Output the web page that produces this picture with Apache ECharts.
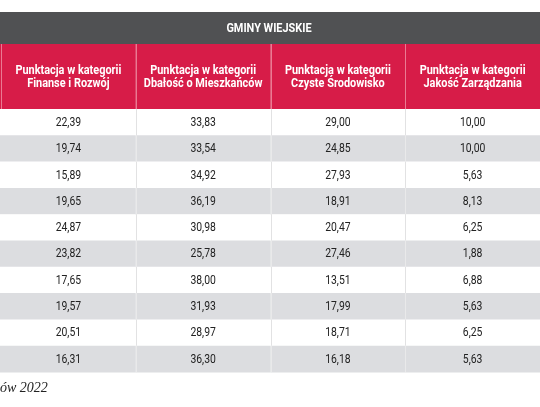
<!DOCTYPE html>
<html>
<head>
<meta charset="utf-8">
<script src="https://cdn.jsdelivr.net/npm/echarts@6/dist/echarts.min.js"></script>
<style>
html,body{margin:0;padding:0;background:#ffffff;}
#chart{width:540px;height:407px;}
</style>
</head>
<body>
<div id="chart"></div>
<script>
// ---- data ----
const tableTitle = 'GMINY WIEJSKIE';
const columnLabels = [
  'Punktacja w kategorii\nFinanse i Rozwój',
  'Punktacja w kategorii\nDbałość o Mieszkańców',
  'Punktacja w kategorii\nCzyste Środowisko',
  'Punktacja w kategorii\nJakość Zarządzania'
];
const rowIds = ['1','2','3','4','5','6','7','8','9','10'];
const finanseRozwoj      = [22.39, 19.74, 15.89, 19.65, 24.87, 23.82, 17.65, 19.57, 20.51, 16.31];
const dbaloscMieszkancow = [33.83, 33.54, 34.92, 36.19, 30.98, 25.78, 38.00, 31.93, 28.97, 36.30];
const czysteSrodowisko   = [29.00, 24.85, 27.93, 18.91, 20.47, 27.46, 13.51, 17.99, 18.71, 16.18];
const jakoscZarzadzania  = [10.00, 10.00, 5.63, 8.13, 6.25, 1.88, 6.88, 5.63, 6.25, 5.63];
const footnote = 'ów 2022';

// ---- build ----
const valueColumns = [finanseRozwoj, dbaloscMieszkancow, czysteSrodowisko, jakoscZarzadzania];
const cellData = [];
valueColumns.forEach((col, c) => col.forEach((v, r) => cellData.push([c, r, v])));
const headerData = columnLabels.map((l, c) => ({ value: [c, 0], name: l }));

const SANS = 'Roboto, "Noto Sans", sans-serif';
const RED = '#d71c48';
const GRAY_BAND = '#505153';
const ROW_GRAY = '#dcdde0';

function fmt(v) { return v.toFixed(2).replace('.', ','); }

function renderHeader(params, api) {
  const c = api.value(0);
  const p = api.coord([c, 0]);
  const s = api.size([1, 1]);
  let x = p[0] - s[0] / 2;
  let w = s[0];
  if (c === 0) { w += x; x = 0; }
  const y = p[1] - s[1] / 2;
  const lx = Math.round(p[0] - s[0] / 2) + 0.5;
  return {
    type: 'group',
    children: [
      { type: 'rect', shape: { x: x, y: y, width: w, height: s[1] }, style: { fill: RED } },
      { type: 'line', shape: { x1: lx, y1: y, x2: lx, y2: y + s[1] }, style: { stroke: '#ea7a92', lineWidth: 1 } },
      { type: 'text', x: p[0], y: p[1] + 1, scaleX: 0.84,
        style: {
          text: columnLabels[c], x: 0, y: 0, align: 'center', verticalAlign: 'middle',
          fontFamily: SANS, fontSize: 13, fontWeight: 'bold', lineHeight: 13, fill: '#ffffff' } }
    ]
  };
}

function renderCell(params, api) {
  const c = api.value(0), r = api.value(1), v = api.value(2);
  const p = api.coord([c, r]);
  const s = api.size([1, 1]);
  let x = p[0] - s[0] / 2;
  let w = s[0];
  if (c === 0) { w += x; x = 0; }
  const y = p[1] - s[1] / 2;
  const lx = Math.round(p[0] - s[0] / 2) + 0.5;
  const children = [
    { type: 'rect', shape: { x: x, y: y, width: w, height: s[1] + 0.5 }, style: { fill: r % 2 === 1 ? ROW_GRAY : '#ffffff' } },
    { type: 'text', x: p[0], y: p[1] + 0.5, scaleX: 0.8,
      style: {
        text: fmt(v), x: 0, y: 0, align: 'center', verticalAlign: 'middle',
        fontFamily: SANS, fontSize: 13, fill: '#222222' } }
  ];
  if (c > 0) {
    children.splice(1, 0, { type: 'line', shape: { x1: lx, y1: y, x2: lx, y2: y + s[1] },
      style: { stroke: r % 2 === 1 ? '#e9e9ea' : '#e2e2e3', lineWidth: 1 } });
  }
  return { type: 'group', children: children };
}

const chart = echarts.init(document.getElementById('chart'), null, { renderer: 'canvas' });
chart.setOption({
  animation: false,
  backgroundColor: '#ffffff',
  grid: [
    { left: 1, top: 44, width: 549, height: 65 },
    { left: 1, top: 109, width: 549, height: 263 }
  ],
  xAxis: [
    { type: 'category', gridIndex: 0, data: columnLabels, show: false },
    { type: 'category', gridIndex: 1, data: columnLabels, show: false }
  ],
  yAxis: [
    { type: 'category', gridIndex: 0, data: ['header'], show: false },
    { type: 'category', gridIndex: 1, data: rowIds, inverse: true, show: false }
  ],
  graphic: [
    { type: 'rect', z: 0, shape: { x: 0, y: 12, width: 540, height: 32 }, style: { fill: GRAY_BAND } },
    { type: 'text', z: 1, x: 269, y: 29, scaleX: 0.84,
      style: { text: tableTitle, x: 0, y: 0, align: 'center', verticalAlign: 'middle',
        fontFamily: SANS, fontSize: 13, fontWeight: 'bold', fill: '#ffffff' } },
    { type: 'text', z: 1, x: 0, y: 388,
      style: { text: footnote, x: 0, y: 0, align: 'left', verticalAlign: 'middle',
        fontFamily: '"Liberation Serif", "DejaVu Serif", serif', fontStyle: 'italic', fontSize: 14, fill: '#222222' } }
  ],
  series: [
    { type: 'custom', xAxisIndex: 0, yAxisIndex: 0, data: headerData, renderItem: renderHeader, silent: true, clip: false },
    { type: 'custom', xAxisIndex: 1, yAxisIndex: 1, data: cellData, renderItem: renderCell, silent: true, clip: false }
  ]
});
</script>
</body>
</html>
